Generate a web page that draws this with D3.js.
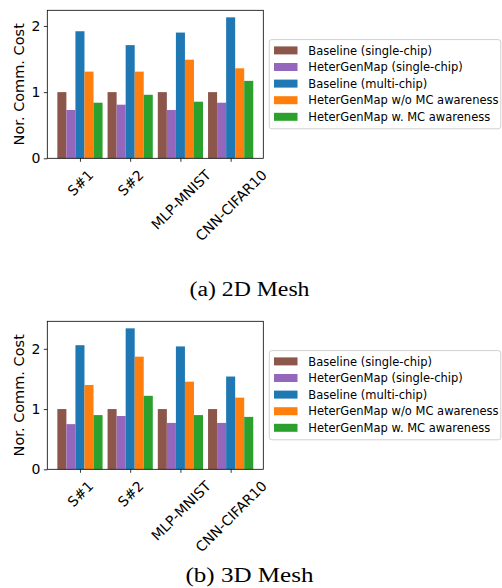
<!DOCTYPE html>
<html>
<head>
<meta charset="utf-8">
<script src="https://cdn.jsdelivr.net/npm/d3@7"></script>
<style>
  html, body { margin: 0; padding: 0; background: #fff; }
  svg { display: block; }
</style>
</head>
<body>
<svg id="chart" width="502" height="588"></svg>
<script>
// Workloads on the x axis
const categories = ["S#1", "S#2", "MLP-MNIST", "CNN-CIFAR10"];

// Mapping approaches (one bar per workload each)
const seriesNames = [
  "Baseline (single-chip)",
  "HeterGenMap (single-chip)",
  "Baseline (multi-chip)",
  "HeterGenMap w/o MC awareness",
  "HeterGenMap w. MC awareness"
];
const seriesColors = ["#8c564b", "#9467bd", "#1f77b4", "#ff7f0e", "#2ca02c"];

// Normalized communication cost, 2D mesh (rows follow seriesNames)
const mesh2D = [
  [1.00, 1.00, 1.00, 1.00],
  [0.73, 0.81, 0.73, 0.84],
  [1.92, 1.71, 1.90, 2.13],
  [1.31, 1.31, 1.49, 1.36],
  [0.84, 0.96, 0.855, 1.17]
];

// Normalized communication cost, 3D mesh
const mesh3D = [
  [1.00, 1.00, 1.00, 1.00],
  [0.75, 0.885, 0.77, 0.77],
  [2.06, 2.34, 2.04, 1.54],
  [1.40, 1.87, 1.455, 1.19],
  [0.90, 1.22, 0.90, 0.87]
];

const yTicks = [0, 1, 2];
const yLabel = "Nor. Comm. Cost";

const svg = d3.select("#chart");
const tickFont = "'DejaVu Sans', sans-serif";

function panel(data, top, caption, capY, capLen) {
  const left = 47.3, right = 263.3, bottom = top + 148;
  const g = svg.append("g");

  const x = d3.scaleLinear().domain([-0.65, 3.65]).range([left, right]);
  const yMax = d3.max(data.flat()) * 1.05;
  const y = d3.scaleLinear().domain([0, yMax]).range([bottom, top]);
  const barW = 0.18;

  // bars
  data.forEach((vals, s) => {
    g.append("g").attr("fill", seriesColors[s])
      .selectAll("rect").data(vals).join("rect")
      .attr("x", (d, i) => x(i + (s - 2.5) * barW))
      .attr("width", x(barW) - x(0))
      .attr("y", d => y(d))
      .attr("height", d => y(0) - y(d));
  });

  // y axis
  const yAxis = d3.axisLeft(y).tickValues(yTicks).tickFormat(d3.format("d"))
    .tickSize(3.5).tickPadding(3.5);
  const ya = g.append("g").attr("transform", `translate(${left},0)`).call(yAxis);
  ya.select(".domain").remove();
  ya.selectAll("line").attr("stroke-width", 0.8);
  ya.selectAll("text").attr("font-family", tickFont).attr("font-size", 14).attr("fill", "#000");

  // x axis
  const xAxis = d3.axisBottom(x).tickValues(d3.range(categories.length))
    .tickFormat(i => categories[i]).tickSize(3.5);
  const xa = g.append("g").attr("transform", `translate(0,${bottom})`).call(xAxis);
  xa.select(".domain").remove();
  xa.selectAll("line").attr("stroke-width", 0.8);
  xa.selectAll("text")
    .attr("font-family", tickFont).attr("font-size", 14).attr("fill", "#000")
    .attr("y", 0).attr("dy", null)
    .attr("text-anchor", "middle")
    .attr("dominant-baseline", "central")
    .each(function () {
      const L = this.getComputedTextLength();
      const cy = 14 + L * 0.3536;
      d3.select(this).attr("transform", `translate(0,${cy}) rotate(-45)`);
    });

  // frame
  g.append("rect").attr("x", left).attr("y", top)
    .attr("width", right - left).attr("height", bottom - top)
    .attr("fill", "none").attr("stroke", "#000").attr("stroke-width", 0.8);

  // y label
  g.append("text")
    .attr("transform", `translate(24,${(top + bottom) / 2}) rotate(-90)`)
    .attr("text-anchor", "middle")
    .attr("font-family", tickFont).attr("font-size", 14.5)
    .text(yLabel);

  // legend
  const lg = g.append("g");
  const ly = top + 29.3;
  lg.append("rect").attr("x", 269.3).attr("y", ly).attr("width", 231.5).attr("height", 89.2)
    .attr("rx", 2.5).attr("fill", "#fff").attr("fill-opacity", 0.8)
    .attr("stroke", "#d0d0d0").attr("stroke-width", 1);
  seriesNames.forEach((name, s) => {
    const cy = ly + 10.8 + s * 16.6;
    lg.append("rect").attr("x", 274).attr("y", cy - 4).attr("width", 23.5).attr("height", 8)
      .attr("fill", seriesColors[s]);
    lg.append("text").attr("x", 308.3).attr("y", cy).attr("dy", "0.36em")
      .attr("font-family", tickFont).attr("font-size", 11.5).text(name);
  });

  // caption
  svg.append("text").attr("x", 249.5).attr("y", capY)
    .attr("text-anchor", "middle")
    .attr("font-family", "'Liberation Serif', 'Times New Roman', serif")
    .attr("font-size", 20)
    .attr("textLength", capLen).attr("lengthAdjust", "spacingAndGlyphs")
    .text(caption);
}

panel(mesh2D, 10.3, "(a) 2D Mesh", 295.7, 120);
panel(mesh3D, 321.3, "(b) 3D Mesh", 581.5, 128);
</script>
</body>
</html>
